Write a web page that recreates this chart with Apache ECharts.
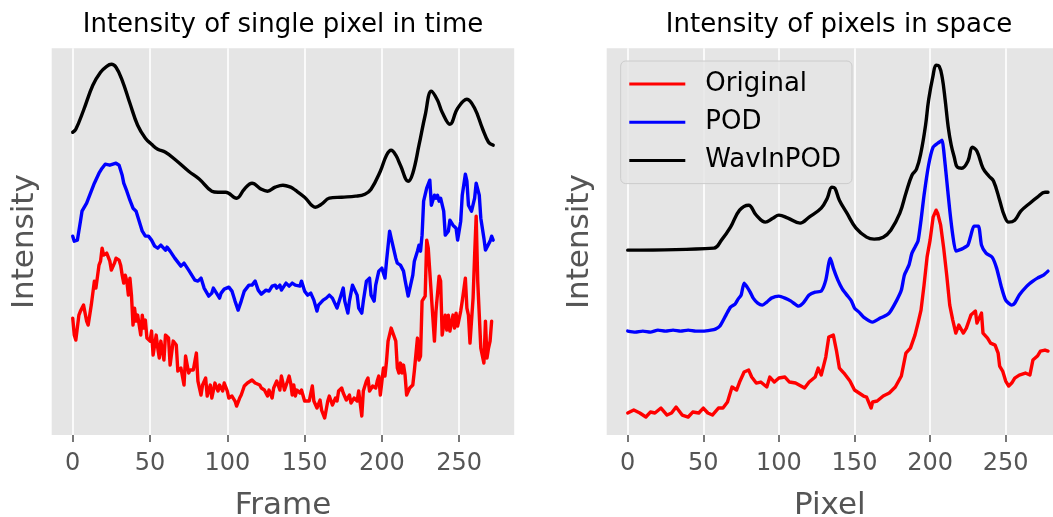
<!DOCTYPE html>
<html>
<head>
<meta charset="utf-8">
<title>Intensity</title>
<script src="https://cdn.jsdelivr.net/npm/echarts@6.0.0/dist/echarts.min.js"></script>
<style>
  html, body { margin: 0; padding: 0; background: #ffffff; }
  #main { width: 1053px; height: 517px; }
</style>
</head>
<body>
<div id="main"></div>
<script>
// Tick positions shared by both x axes
const xTicks = [0, 50, 100, 150, 200, 250];
const seriesNames = ['Original', 'POD', 'WavInPOD'];

// Left panel: intensity of one pixel over frames, [frame, intensity] (arbitrary units)
const timeOriginal = [
  [0,117],[1,100],[2,95],[4,120],[5,124],[7,130],[8,132],[9,114],[10,110],[12,130],[14,154],[15,147],
  [17,170],[18,174],[19,187],[20,180],[22,182],[24,174],[25,165],[27,172],[28,177],[30,175],[31,170],
  [32,160],[33,152],[34,160],[35,154],[36,140],[37,157],[38,140],[39,110],[40,127],[41,114],[42,120],
  [44,100],[45,120],[46,107],[47,115],[48,97],[50,94],[51,104],[52,80],[54,100],[55,87],[56,77],[57,94],
  [59,75],[60,100],[62,97],[63,70],[65,94],[67,90],[68,64],[70,67],[72,50],[73,79],[75,62],[76,65],
  [78,65],[79,67],[80,82],[81,54],[83,40],[84,50],[86,57],[87,39],[89,50],[90,37],[92,52],[94,44],
  [95,50],[97,44],[98,52],[100,44],[101,37],[103,39],[105,34],[106,29],[108,37],[109,40],[111,49],
  [113,52],[114,54],[116,55],[118,52],[119,50],[121,50],[122,47],[124,45],[126,39],[127,45],[129,37],
  [130,47],[132,54],[134,45],[135,59],[137,45],[139,54],[140,59],[141,52],[142,40],[143,50],[144,39],
  [145,45],[147,42],[148,45],[150,34],[151,32],[153,34],[155,49],[156,34],[158,27],[160,35],[161,25],
  [163,17],[165,34],[166,39],[168,30],[170,37],[171,34],[172,44],[174,47],[175,42],[177,35],[179,40],
  [180,32],[182,37],[184,34],[185,44],[187,19],[188,44],[190,54],[191,57],[192,44],[194,49],[196,47],
  [197,54],[198,59],[199,40],[201,67],[202,59],[203,74],[204,94],[206,107],[207,109],[209,94],[210,67],
  [211,62],[212,72],[213,62],[214,70],[215,60],[216,40],[217,38],[218,47],[220,50],[221,64],[223,97],
  [224,75],[225,79],[226,134],[228,139],[229,195],[230,187],[231,185],[232,140],[234,94],[235,124],
  [237,159],[238,154],[239,100],[241,120],[242,105],[243,120],[244,104],[246,120],[247,107],[248,122],
  [249,109],[251,124],[252,134],[254,157],[255,127],[256,120],[257,92],[259,137],[260,180],[261,219],
  [262,154],[264,87],[266,72],[267,114],[268,77],[269,87],[270,94],[271,114]
];
const timePOD = [
  [0,199],[1,194],[3,195],[5,214],[6,224],[9,232],[12,244],[14,252],[17,262],[19,267],[21,271],[24,270],
  [26,271],[27,269],[28,272],[30,270],[32,260],[33,252],[35,244],[37,235],[39,227],[41,224],[42,219],
  [45,204],[47,199],[49,199],[51,195],[53,189],[55,187],[57,190],[60,185],[61,188],[63,184],[66,177],
  [68,173],[70,169],[72,172],[75,165],[77,160],[79,155],[81,154],[83,157],[85,147],[88,139],[90,142],
  [91,147],[93,142],[95,137],[96,142],[98,146],[101,148],[103,144],[105,134],[107,125],[109,134],
  [111,144],[114,150],[116,150],[118,154],[120,145],[122,141],[125,145],[127,144],[129,149],[131,150],
  [132,147],[134,150],[135,145],[138,152],[140,149],[142,152],[144,150],[145,152],[147,149],[148,154],
  [150,144],[152,140],[154,142],[156,135],[158,124],[159,130],[162,135],[164,137],[166,140],[168,137],
  [171,127],[173,137],[175,147],[176,134],[178,122],[179,134],[181,150],[184,140],[185,127],[187,122],
  [188,134],[190,154],[192,157],[193,140],[195,134],[196,150],[198,164],[200,167],[202,157],[203,174],
  [205,204],[206,197],[209,177],[210,172],[212,170],[214,164],[215,155],[217,139],[218,137],[220,160],
  [221,174],[223,184],[224,190],[225,184],[226,200],[227,234],[229,247],[231,255],[232,230],[234,240],
  [235,237],[236,240],[237,234],[238,237],[240,224],[241,200],[243,204],[244,215],[246,210],[248,207],
  [249,195],[251,214],[252,240],[254,261],[255,254],[256,230],[258,224],[260,237],[261,252],[263,240],
  [264,217],[266,197],[267,185],[268,185],[270,194],[271,199],[272,195]
];
const timeWavInPOD = [
  [0,303],[2,306],[7,325],[13,350],[18,363],[22,369],[25,371],[28,368],[32,355],[37,332],[42,310],
  [47,297],[51,291],[55,286],[60,283],[66,276],[75,264],[82,256],[90,244],[94,243],[99,243],[106,237],
  [111,246],[116,252],[122,246],[126,244],[131,248],[136,250],[141,248],[144,245],[150,238],[157,228],
  [161,231],[166,237],[174,238],[183,239],[189,241],[193,246],[199,264],[203,280],[206,285],[209,280],
  [212,270],[217,254],[220,262],[224,290],[228,320],[232,344],[236,335],[239,323],[244,311],[249,327],
  [255,336],[260,327],[265,307],[269,293],[272,290]
];

// Right panel: intensity along a row of pixels, [pixel, intensity] (arbitrary units)
const spaceOriginal = [
  [0,22],[4,25],[8,22],[12,18],[15,23],[18,22],[22,27],[26,20],[29,22],[32,28],[36,20],[40,18],[43,23],
  [47,22],[50,27],[53,22],[56,20],[60,27],[63,27],[66,33],[69,48],[72,45],[74,53],[77,63],[80,65],
  [82,58],[85,52],[88,53],[92,48],[94,58],[97,53],[100,57],[104,58],[107,53],[111,52],[117,47],[120,53],
  [124,58],[126,67],[128,60],[131,78],[133,98],[136,100],[138,85],[140,67],[143,62],[147,54],[150,45],
  [153,42],[156,39],[158,38],[161,27],[162,33],[165,34],[169,39],[173,42],[177,48],[181,59],[184,82],
  [187,87],[190,100],[192,112],[194,125],[196,150],[198,178],[200,195],[202,218],[204,225],[205,222],
  [207,210],[209,187],[211,160],[213,130],[215,115],[217,102],[219,110],[222,102],[224,107],[227,120],
  [230,124],[231,112],[234,122],[235,102],[238,97],[240,92],[243,90],[245,82],[246,69],[248,64],[250,54],
  [252,49],[254,52],[256,57],[259,60],[263,62],[266,60],[268,75],[271,79],[273,84],[276,85],[278,84]
];
const spacePOD = [
  [0,104],[5,103],[10,104],[15,103],[20,105],[25,104],[30,105],[35,104],[40,105],[45,104],[50,104],
  [55,105],[58,106],[61,109],[65,120],[68,128],[71,131],[73,136],[75,140],[77,152],[79,148],[81,143],
  [83,137],[86,132],[89,130],[92,133],[95,137],[100,139],[104,137],[108,134],[113,129],[116,132],
  [120,140],[124,143],[128,144],[131,155],[133,172],[134,177],[136,167],[139,155],[142,146],[145,140],
  [148,134],[150,127],[153,123],[156,118],[162,113],[167,117],[170,119],[173,122],[178,135],[181,145],
  [183,160],[186,170],[188,182],[190,188],[192,194],[194,215],[196,240],[199,270],[202,288],[205,292],
  [207,294],[208,295],[209,285],[211,255],[213,225],[215,200],[217,184],[219,185],[222,187],[225,190],
  [227,200],[229,209],[232,209],[234,190],[237,182],[241,178],[244,167],[247,149],[250,135],[254,130],
  [256,132],[259,140],[264,149],[268,154],[271,157],[275,160],[278,164]
];
const spaceWavInPOD = [
  [0,185],[57,187],[62,195],[68,208],[74,225],[80,230],[85,220],[91,213],[96,217],[100,220],[106,217],
  [114,212],[120,218],[128,227],[132,237],[135,248],[137,247],[140,235],[145,222],[151,207],[158,198],
  [163,196],[169,198],[174,205],[180,222],[184,242],[188,260],[191,266],[194,283],[197,310],[199,335],
  [202,360],[204,370],[206,369],[208,358],[210,335],[212,308],[214,290],[216,278],[218,268],[221,267],
  [225,274],[228,288],[231,284],[235,267],[239,259],[242,254],[246,235],[249,220],[252,213],[256,215],
  [260,224],[266,232],[271,238],[276,243],[278,243]
];

const colors = { Original: '#FF0000', POD: '#0000FF', WavInPOD: '#000000' };
const FONT = 'DejaVu Sans';

function xAxisFor(gridIndex, min, max, label) {
  return {
    gridIndex: gridIndex,
    type: 'value',
    min: min,
    max: max,
    axisLine: { show: false },
    axisTick: {
      show: true, customValues: xTicks, length: 7, inside: false,
      lineStyle: { color: '#555555', width: 1.6 }
    },
    axisLabel: {
      customValues: xTicks, fontSize: 24, color: '#555555', margin: 17, fontFamily: FONT
    },
    splitLine: { show: true, lineStyle: { color: '#FFFFFF', width: 1.6 } },
    name: label,
    nameLocation: 'middle',
    nameGap: 55,
    nameTextStyle: { fontSize: 31, color: '#555555', fontFamily: FONT }
  };
}

function yAxisFor(gridIndex) {
  return {
    gridIndex: gridIndex,
    type: 'value',
    min: 0,
    max: 387,
    axisLine: { show: false },
    axisTick: { show: false },
    axisLabel: { show: false },
    splitLine: { show: false },
    name: 'Intensity',
    nameLocation: 'middle',
    nameGap: 11,
    nameRotate: 90,
    nameTextStyle: { fontSize: 31, color: '#555555', fontFamily: FONT }
  };
}

function lineSeries(name, data, panel, smooth) {
  return {
    name: name,
    type: 'line',
    xAxisIndex: panel,
    yAxisIndex: panel,
    data: data,
    symbol: 'none',
    showSymbol: false,
    smooth: smooth,
    clip: true,
    lineStyle: { color: colors[name], width: 3.4, join: 'round', cap: 'round' },
    itemStyle: { color: colors[name] },
    emphasis: { disabled: true }
  };
}

const option = {
  animation: false,
  backgroundColor: '#FFFFFF',
  textStyle: { fontFamily: FONT },
  title: [
    {
      text: 'Intensity of single pixel in time',
      left: 278, top: 7, textAlign: 'center',
      textStyle: { fontSize: 26, fontWeight: 'normal', color: '#000000', fontFamily: FONT }
    },
    {
      text: 'Intensity of pixels in space',
      left: 834, top: 7, textAlign: 'center',
      textStyle: { fontSize: 26, fontWeight: 'normal', color: '#000000', fontFamily: FONT }
    }
  ],
  legend: {
    data: seriesNames,
    orient: 'vertical',
    left: 620.7,
    top: 61,
    icon: 'rect',
    itemWidth: 56,
    itemHeight: 3,
    itemGap: 8.3,
    padding: [8, 11, 8, 8.6],
    backgroundColor: 'rgba(229,229,229,0.8)',
    borderColor: '#CCCCCC',
    borderWidth: 1,
    borderRadius: 5,
    selectedMode: false,
    textStyle: { fontSize: 26, color: '#000000', fontFamily: FONT, lineHeight: 30, padding: [0, 0, 0, 15] }
  },
  grid: [
    {
      left: 51.7, top: 48.3, width: 462.5, height: 386.7,
      outerBoundsMode: 'none', containLabel: false,
      show: true, backgroundColor: '#E5E5E5', borderWidth: 0
    },
    {
      left: 606.7, top: 48.3, right: 0, height: 386.7,
      outerBoundsMode: 'none', containLabel: false,
      show: true, backgroundColor: '#E5E5E5', borderWidth: 0
    }
  ],
  xAxis: [
    xAxisFor(0, -13.6, 285.6, 'Frame'),
    // the right panel runs past the page edge; its visible part ends at pixel 281.3
    xAxisFor(1, -13.9, 281.3, 'Pixel')
  ],
  yAxis: [yAxisFor(0), yAxisFor(1)],
  series: [
    lineSeries('Original', timeOriginal, 0, false),
    lineSeries('POD', timePOD, 0, false),
    lineSeries('WavInPOD', timeWavInPOD, 0, 0.4),
    lineSeries('Original', spaceOriginal, 1, false),
    lineSeries('POD', spacePOD, 1, 0.2),
    lineSeries('WavInPOD', spaceWavInPOD, 1, 0.4)
  ]
};

const chart = echarts.init(document.getElementById('main'), null, { renderer: 'canvas' });
chart.setOption(option);
</script>
</body>
</html>
